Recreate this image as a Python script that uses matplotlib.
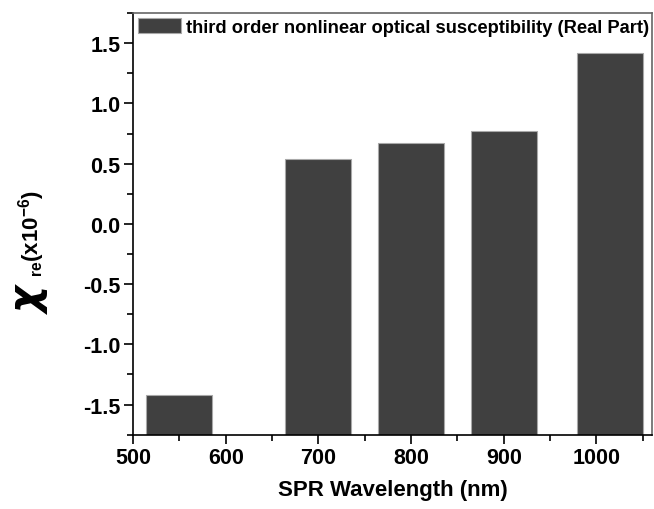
import numpy as np
import matplotlib
matplotlib.use("Agg")
import matplotlib.pyplot as plt
from matplotlib.ticker import MultipleLocator

plt.rcParams['font.family'] = ['Liberation Sans', 'DejaVu Sans']
plt.rcParams['font.weight'] = 'bold'
plt.rcParams['mathtext.fontset'] = 'custom'
plt.rcParams['mathtext.rm'] = 'Liberation Sans:bold'
plt.rcParams['mathtext.it'] = 'Liberation Sans:bold'
plt.rcParams['mathtext.bf'] = 'Liberation Sans:bold'

# SPR wavelength (nm) and real part of chi(3) (x10^-6)
wavelength = [550, 700, 800, 900, 1015]
chi_re = [-1.42, 0.54, 0.675, 0.77, 1.415]
label = "third order nonlinear optical susceptibility (Real Part)"

y_min, y_max = -1.75, 1.75

fig = plt.figure(figsize=(6.54, 5.10), dpi=100)
ax = fig.add_axes([0.2034, 0.1457, 0.7936, 0.8268])

heights = np.array(chi_re) - y_min
ax.bar(wavelength, heights, width=71, bottom=y_min, color='#404040',
       edgecolor='#a8a8a8', linewidth=0.8, label=label)

ax.set_xlim(500, 1060)
ax.set_ylim(y_min, y_max)
ax.xaxis.set_major_locator(MultipleLocator(100))
ax.xaxis.set_minor_locator(MultipleLocator(50))
ax.yaxis.set_major_locator(MultipleLocator(0.5))
ax.yaxis.set_minor_locator(MultipleLocator(0.25))
ax.yaxis.set_major_formatter(lambda v, p: f"{v:.1f}")

ax.tick_params(which='both', direction='out', top=False, right=False,
               width=1.2, labelsize=15.5)
ax.tick_params(which='major', length=6.5, pad=2.5)
ax.tick_params(which='minor', length=4)
for s in ax.spines.values():
    s.set_linewidth(1.2)
ax.spines['top'].set_color('#666666')
ax.spines['right'].set_color('#666666')

ax.set_xlabel("SPR Wavelength (nm)", fontsize=16, fontweight='bold', labelpad=8)

# y label: big italic chi, then subscript and units
fig.text(50 / 654, 1 - 314 / 510, "χ", fontsize=30, fontweight='bold',
         family='DejaVu Sans', style='italic',
         rotation=90, ha='right', va='bottom')
fig.text(47 / 654, 1 - 277 / 510, r"$_{re}$(x10$^{-6}$)", fontsize=16,
         fontweight='bold', rotation=90, ha='right', va='bottom')

ax.legend(loc='upper left', frameon=False, handlelength=2.35,
          handleheight=0.9, handletextpad=0.3, borderaxespad=0.1,
          borderpad=0.15, prop={'weight': 'bold', 'size': 13.2})

fig.savefig("out.png", dpi=100)
